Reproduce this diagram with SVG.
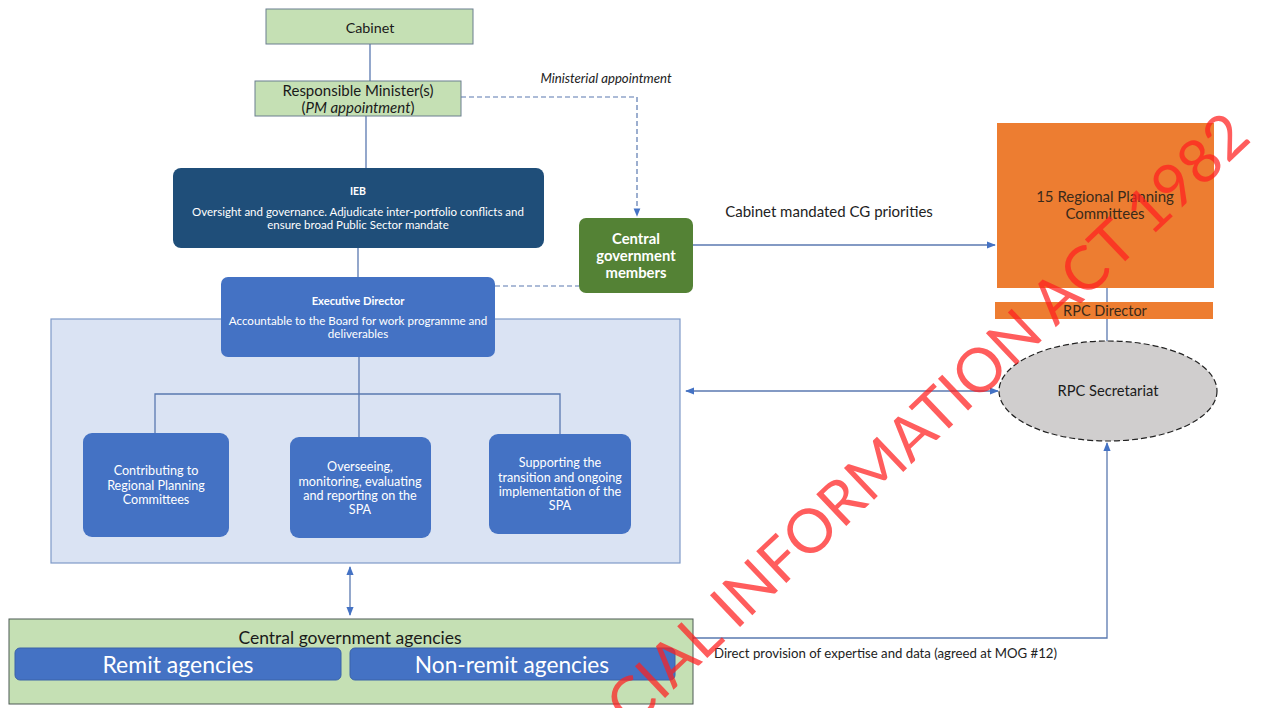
<svg xmlns="http://www.w3.org/2000/svg" width="1261" height="708" viewBox="0 0 1261 708">
<defs>
<style>
text{font-family:Lato,"Liberation Sans",sans-serif;text-anchor:middle;dominant-baseline:central}
.g{fill:#c5e0b4;stroke:#6b7f8f;stroke-width:1}
.ln{fill:none;stroke:#5a79b0;stroke-width:1.3}
.dl{fill:none;stroke:#5a79b0;stroke-width:1.2;stroke-dasharray:5 3}
.w{fill:#fff}
.k{fill:#1a1a1a}
.bl{fill:#4472c4}
</style>
<marker id="ah" viewBox="0 0 10 10" refX="9" refY="5" markerWidth="7" markerHeight="7" orient="auto-start-reverse"><path d="M0,1 L10,5 L0,9 z" fill="#4472c4"/></marker>
</defs>
<rect width="1261" height="708" fill="#fff"/>

<g id="container">
<rect x="51" y="319" width="629" height="244" fill="#dae3f3" stroke="#7f9ac8" stroke-width="1.2"/>
</g>

<g id="connectors">
<line class="ln" x1="370" y1="44" x2="370" y2="81"/>
<line class="ln" x1="366" y1="116" x2="366" y2="168"/>
<polyline class="dl" points="461,97 637,97 637,216" marker-end="url(#ah)"/>
<line class="ln" x1="358" y1="248" x2="358" y2="278"/>
<line class="dl" x1="495" y1="286" x2="579" y2="286"/>
<polyline class="ln" points="359,357 359,394"/>
<polyline class="ln" points="155,433 155,394 560,394 560,434"/>
<line class="ln" x1="359" y1="394" x2="359" y2="437"/>
<line class="ln" x1="350" y1="567" x2="350" y2="615" marker-start="url(#ah)" marker-end="url(#ah)"/>
<line class="ln" x1="693" y1="245" x2="995" y2="245" marker-end="url(#ah)"/>
<line class="ln" x1="1107" y1="288" x2="1107" y2="341"/>
<line class="ln" x1="686" y1="391" x2="998" y2="391" marker-start="url(#ah)" marker-end="url(#ah)"/>
<polyline class="ln" points="693,638 1107,638 1107,443" marker-end="url(#ah)"/>
<text x="606" y="78" font-size="13.2" font-style="italic" fill="#222">Ministerial appointment</text>
<text x="829" y="211" font-size="15" fill="#222">Cabinet mandated CG priorities</text>
<text x="714" y="653" font-size="13.2" fill="#222" style="text-anchor:start">Direct provision of expertise and data (agreed at MOG #12)</text>
</g>

<g id="cabinet">
<rect class="g" x="266" y="9" width="207" height="35"/>
<text class="k" x="370" y="27" font-size="14.3">Cabinet</text>
</g>

<g id="minister">
<rect class="g" x="255" y="81" width="206" height="35"/>
<text class="k" x="358" y="90" font-size="15">Responsible Minister(s)</text>
<text class="k" x="358" y="107" font-size="15">(<tspan font-style="italic">PM appointment</tspan>)</text>
</g>

<g id="ieb">
<rect x="173" y="168" width="371" height="80" rx="8" fill="#1f4e79"/>
<text class="w" x="358" y="191" font-size="10.5" font-weight="bold">IEB</text>
<text class="w" x="358" y="211" font-size="11.5">Oversight and governance. Adjudicate inter-portfolio conflicts and</text>
<text class="w" x="358" y="224" font-size="11.5">ensure broad Public Sector mandate</text>
</g>

<g id="cg-members">
<rect x="579" y="218" width="114" height="75" rx="7" fill="#548235"/>
<text class="w" x="636" y="238" font-size="14.8" font-weight="bold">Central</text>
<text class="w" x="636" y="255" font-size="14.8" font-weight="bold">government</text>
<text class="w" x="636" y="272" font-size="14.8" font-weight="bold">members</text>
</g>

<g id="exec-director">
<rect class="bl" x="221" y="277" width="274" height="80" rx="7"/>
<text class="w" x="358" y="300" font-size="11.2" font-weight="bold">Executive Director</text>
<text class="w" x="358" y="320" font-size="11.6">Accountable to the Board for work programme and</text>
<text class="w" x="358" y="333" font-size="11.6">deliverables</text>
</g>

<g id="contributing">
<rect class="bl" x="83" y="433" width="146" height="104" rx="9"/>
<text class="w" x="156" y="470" font-size="12.6">Contributing to</text>
<text class="w" x="156" y="485" font-size="12.6">Regional Planning</text>
<text class="w" x="156" y="499" font-size="12.6">Committees</text>
</g>

<g id="overseeing">
<rect class="bl" x="290" y="437" width="141" height="101" rx="9"/>
<text class="w" x="360" y="466" font-size="12.6">Overseeing,</text>
<text class="w" x="360" y="481" font-size="12.6">monitoring, evaluating</text>
<text class="w" x="360" y="495" font-size="12.6">and reporting on the</text>
<text class="w" x="360" y="509" font-size="12.6">SPA</text>
</g>

<g id="supporting">
<rect class="bl" x="489" y="434" width="142" height="100" rx="9"/>
<text class="w" x="560" y="462" font-size="12.6">Supporting the</text>
<text class="w" x="560" y="477" font-size="12.6">transition and ongoing</text>
<text class="w" x="560" y="491" font-size="12.6">implementation of the</text>
<text class="w" x="560" y="505" font-size="12.6">SPA</text>
</g>

<g id="cg-agencies">
<rect x="9" y="619" width="684" height="85" fill="#c5e0b4" stroke="#4d5a55" stroke-width="1"/>
<text class="k" x="350" y="637" font-size="17.5">Central government agencies</text>
<rect class="bl" x="15" y="648" width="326" height="32" rx="5" stroke="#3a62a8"/>
<text class="w" x="178" y="664" font-size="23">Remit agencies</text>
<rect class="bl" x="350" y="648" width="325" height="32" rx="5" stroke="#3a62a8"/>
<text class="w" x="512" y="664" font-size="22.7">Non-remit agencies</text>
</g>

<g id="rpc">
<rect x="997" y="123" width="217" height="165" fill="#ed7d31"/>
<text x="1105" y="196" font-size="15" fill="#3a2a1a">15 Regional Planning</text>
<text x="1105" y="213" font-size="15" fill="#3a2a1a">Committees</text>
</g>

<g id="rpc-director">
<rect x="995" y="302" width="218" height="17" fill="#ed7d31"/>
<text x="1105" y="310" font-size="14.5" fill="#3a2a1a">RPC Director</text>
</g>

<g id="rpc-secretariat">
<ellipse cx="1108" cy="391" rx="109" ry="50" fill="#d0cece" stroke="#222" stroke-width="1.2" stroke-dasharray="6 3"/>
<text class="k" x="1108" y="390" font-size="14.7">RPC Secretariat</text>
</g>

<g id="watermark">
<text x="1253" y="140" transform="rotate(-43.5 1253 140)" font-family="'Liberation Sans',Arial,sans-serif" font-size="61" fill="#ff2020" opacity="0.72" style="text-anchor:end;dominant-baseline:alphabetic">CIAL INFORMATION ACT 1982</text>
</g>
</svg>
